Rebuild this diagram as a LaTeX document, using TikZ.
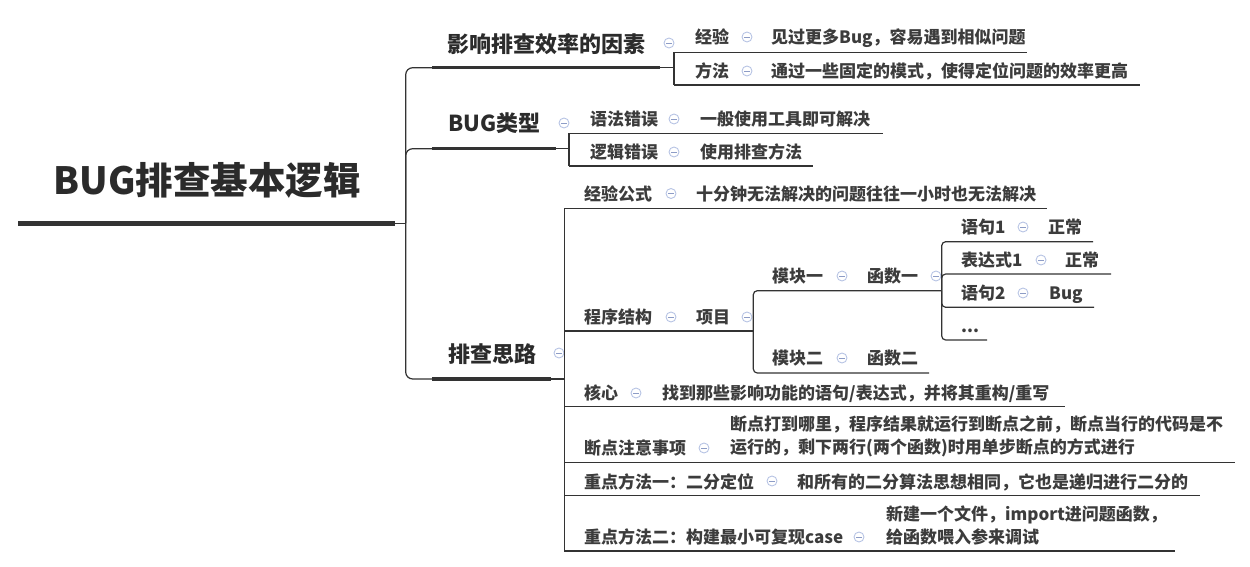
\documentclass[tikz,border=0pt]{standalone}
\usepackage{fontspec}
\newfontfamily\cjk{Noto Sans CJK SC}
\definecolor{ln}{HTML}{333333}
\definecolor{tx}{HTML}{2B2B2B}
\definecolor{tc}{HTML}{3C3C3C}
\definecolor{icb}{HTML}{B7C4E4}
\definecolor{icm}{HTML}{8D9CC6}
\begin{document}
\begin{tikzpicture}[x=1pt,y=-1pt,
 conn/.style={draw=ln,line width=1.2pt},
 rootline/.style={draw=ln,line width=5pt},
 brline/.style={draw=ln,line width=3.6pt},
 rootlbl/.style={font=\cjk\bfseries\fontsize{37.5}{40}\selectfont,text=tx,inner sep=0pt},
 brlbl/.style={anchor=west,font=\cjk\bfseries\fontsize{22}{26}\selectfont,text=tx,inner sep=0pt,text height=19.4pt,text depth=2.6pt},
 lbl/.style={anchor=west,font=\cjk\bfseries\fontsize{17}{23}\selectfont,text=tc,inner sep=0pt,text height=15pt,text depth=2pt},
 lbltwo/.style={anchor=west,align=left,font=\cjk\bfseries\fontsize{17}{23}\selectfont,text=tc,inner sep=0pt},
 tog/.style={circle,draw=icb,line width=0.9pt,fill=white,minimum size=10pt,inner sep=0pt,
   path picture={\draw[icm,line width=0.9pt] ([xshift=-2.6pt]path picture bounding box.center) -- ([xshift=2.6pt]path picture bounding box.center);}}
]
\useasboundingbox (0,0) rectangle (1250,567);

% ---------- root ----------
\node[rootlbl] (root) at (207,180) {BUG排查基本逻辑};
\coordinate (rL) at (18,223.3);
\coordinate (rR) at (395,223.3);
\coordinate (rV) at (405.7,223.3);
\draw[rootline] (rL) -- (rR);
\draw[conn] (rR) -- (rV);

% ---------- branch coordinates ----------
\coordinate (b1L) at (432,67.7);  \coordinate (b1R) at (660,67.7);
\coordinate (b2L) at (432,148.7); \coordinate (b2R) at (556,148.7);
\coordinate (b3L) at (432,379);   \coordinate (b3R) at (551,379);
\draw[conn,rounded corners=7pt] (rV) |- (b1L);
\draw[conn,rounded corners=7pt] (rV) |- (b2L);
\draw[conn,rounded corners=7pt] (rV) |- (b3L);
\draw[brline] (b1L) -- (b1R);
\draw[brline] (b2L) -- (b2R);
\draw[brline] (b3L) -- (b3R);

\node[brlbl] (br1) at (447,44) {影响排查效率的因素};
\node[brlbl] (br2) at (448,123) {BUG类型};
\node[brlbl] (br3) at (448,354) {排查思路};
\node[tog] (t1) at (669,43) {};
\node[tog] (t2) at (564,123) {};
\node[tog] (t3) at (559,353) {};

% ---------- branch 1 children ----------
\coordinate (v1) at (674,67.7);
\coordinate (c11L) at (674,52.3); \coordinate (c11R) at (1027,52.3);
\coordinate (c12L) at (674,85);   \coordinate (c12R) at (1140,85);
\draw[conn] (b1R) -- (v1);
\draw[conn] (c11L) -- (c12L);
\draw[conn] (c11L) -- (c11R);
\draw[conn] (c12L) -- (c12R);
\node[lbl] (n11) at (695,37) {经验};
\node[tog] (t11) at (747,37) {};
\node[lbl] (n11b) at (771,37) {见过更多Bug，容易遇到相似问题};
\node[lbl] (n12) at (695,71) {方法};
\node[tog] (t12) at (747,71) {};
\node[lbl] (n12b) at (771,71) {通过一些固定的模式，使得定位问题的效率更高};

% ---------- branch 2 children ----------
\coordinate (v2) at (569,148.7);
\coordinate (c21L) at (569,133.5); \coordinate (c21R) at (883,133.5);
\coordinate (c22L) at (569,166);   \coordinate (c22R) at (813,166);
\draw[conn] (b2R) -- (v2);
\draw[conn] (c21L) -- (c22L);
\draw[conn] (c21L) -- (c21R);
\draw[conn] (c22L) -- (c22R);
\node[lbl] (n21) at (590,119) {语法错误};
\node[tog] (t21) at (674,119) {};
\node[lbl] (n21b) at (700,119) {一般使用工具即可解决};
\node[lbl] (n22) at (590,152) {逻辑错误};
\node[tog] (t22) at (674,152) {};
\node[lbl] (n22b) at (700,152) {使用排查方法};

% ---------- branch 3 children ----------
\coordinate (v3) at (564.3,379);
\coordinate (c31L) at (564.3,208.3); \coordinate (c31R) at (1047,208.3);
\coordinate (c32L) at (564.3,331);   \coordinate (c32R) at (753.3,331);
\coordinate (c33L) at (564.3,406.5); \coordinate (c33R) at (1065,406.5);
\coordinate (c34L) at (564.3,462.5); \coordinate (c34R) at (1235,462.5);
\coordinate (c35L) at (564.3,495.7); \coordinate (c35R) at (1200,495.7);
\coordinate (c36L) at (564.3,551);   \coordinate (c36R) at (1175,551);
\draw[conn] (b3R) -- (v3);
\draw[conn] (c31L) -- (c36L);
\draw[conn] (c31L) -- (c31R);
\draw[conn] (c32L) -- (c32R);
\draw[conn] (c33L) -- (c33R);
\draw[conn] (c34L) -- (c34R);
\draw[conn] (c35L) -- (c35R);
\draw[conn] (c36L) -- (c36R);

\node[lbl] (n31) at (584,194) {经验公式};
\node[tog] (t31) at (671,193.5) {};
\node[lbl] (n31b) at (696,194) {十分钟无法解决的问题往往一小时也无法解决};

\node[lbl] (n32) at (584,317) {程序结构};
\node[tog] (t32) at (671,317) {};
\node[lbl] (n32b) at (696,317) {项目};
\node[tog] (t32b) at (747,317) {};

% 项目 subtree
\coordinate (m1L) at (753.3,290.7); \coordinate (m1R) at (941.7,290.7);
\coordinate (m2L) at (753.3,373);   \coordinate (m2R) at (929,373);
\draw[conn,rounded corners=4pt] (c32R) |- (m1R);
\draw[conn,rounded corners=4pt] (c32R) |- (m2R);
\node[lbl] (m1) at (772,276) {模块一};
\node[tog] (tm1) at (842,276) {};
\node[lbl] (m1b) at (867,276) {函数一};
\node[tog] (tm1b) at (936,276) {};
\node[lbl] (m2) at (772,358) {模块二};
\node[tog] (tm2) at (842,358) {};
\node[lbl] (m2b) at (867,358) {函数二};

% 函数一 subtree
\coordinate (f1R) at (1093,241.7);
\coordinate (f2R) at (1111,274);
\coordinate (f3R) at (1094,307.3);
\coordinate (f4R) at (987,340);
\draw[conn,rounded corners=4pt] (m1R) |- (f1R);
\draw[conn,rounded corners=4pt] (m1R) |- (f2R);
\draw[conn,rounded corners=4pt] (m1R) |- (f3R);
\draw[conn,rounded corners=4pt] (m1R) |- (f4R);
\node[lbl] (f1) at (961,227) {语句1};
\node[tog] (tf1) at (1023,227) {};
\node[lbl] (f1b) at (1048,227) {正常};
\node[lbl] (f2) at (961,260) {表达式1};
\node[tog] (tf2) at (1041,260) {};
\node[lbl] (f2b) at (1065,260) {正常};
\node[lbl] (f3) at (961,293) {语句2};
\node[tog] (tf3) at (1023,293) {};
\node[lbl] (f3b) at (1049,293) {Bug};
\node[lbl] (f4) at (961,326) {...};

\node[lbl] (n33) at (584,393) {核心};
\node[tog] (t33) at (636,393) {};
\node[lbl] (n33b) at (662,393) {找到那些影响功能的语句/表达式，并将其重构/重写};

\node[lbl] (n34) at (584,448) {断点注意事项};
\node[tog] (t34) at (704,448) {};
\node[lbltwo] (n34b) at (730,436.5) {断点打到哪里，程序结果就运行到断点之前，断点当行的代码是不\\运行的，剩下两行(两个函数)时用单步断点的方式进行};

\node[lbl] (n35) at (584,482) {重点方法一：二分定位};
\node[tog] (t35) at (772,481) {};
\node[lbl] (n35b) at (797,482) {和所有的二分算法思想相同，它也是递归进行二分的};

\node[lbl] (n36) at (584,537) {重点方法二：构建最小可复现case};
\node[tog] (t36) at (859,537) {};
\node[lbltwo] (n36b) at (886,525.5) {新建一个文件，import进问题函数，\\给函数喂入参来调试};
\end{tikzpicture}
\end{document}
